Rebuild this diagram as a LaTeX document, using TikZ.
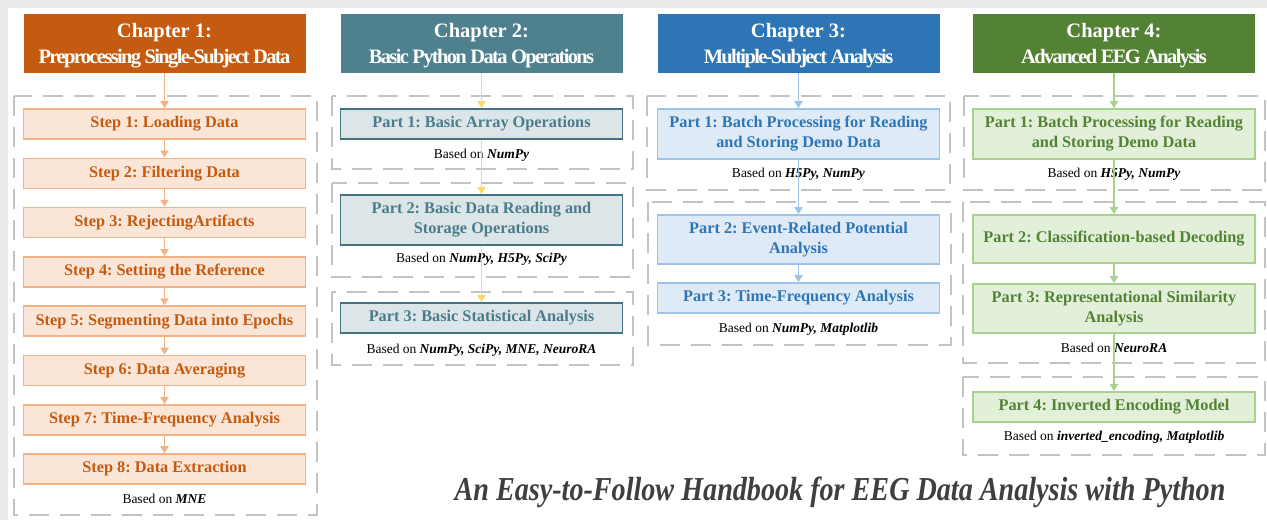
\documentclass[tikz,border=0pt]{standalone}
\usepackage{fontspec}
\setmainfont{Liberation Serif}
\newfontfamily\condfont[FakeStretch=0.84]{Liberation Serif}
\newfontfamily\tightfont[LetterSpace=-8]{Liberation Serif}
\usetikzlibrary{arrows.meta}
\definecolor{oDark}{HTML}{C55A11}
\definecolor{oFill}{HTML}{FBE5D6}
\definecolor{oLine}{HTML}{F4B183}
\definecolor{tDark}{HTML}{4E808E}
\definecolor{tFill}{HTML}{DCE6E9}
\definecolor{tLine}{HTML}{44737F}
\definecolor{tText}{HTML}{4A7C8A}
\definecolor{yArrow}{HTML}{FFD966}
\definecolor{bDark}{HTML}{2E75B6}
\definecolor{bFill}{HTML}{DEEBF7}
\definecolor{bLine}{HTML}{9DC3E6}
\definecolor{gDark}{HTML}{548235}
\definecolor{gFill}{HTML}{E2F0D9}
\definecolor{gLine}{HTML}{A9D18E}
\definecolor{dashGray}{HTML}{C3C3C3}
\definecolor{titleGray}{HTML}{3F3F3F}
\definecolor{shadowGray}{HTML}{EBEBEB}
\tikzset{
  header/.style={minimum width=282pt, minimum height=59pt, inner sep=0pt},
  headtext/.style={inner sep=0pt, align=center, text=white,
    font=\bfseries\fontsize{20.5}{26}\selectfont},
  box/.style={minimum width=282pt, inner sep=0pt, align=center, line width=1.6pt,
    font=\frenchspacing\bfseries\fontsize{16.3}{20}\selectfont},
  stepbox/.style={box, draw=oLine, fill=oFill, text=oDark},
  tbox/.style={box, draw=tLine, fill=tFill, text=tText},
  bbox/.style={box, draw=bLine, fill=bFill, text=bDark},
  gbox/.style={box, draw=gLine, fill=gFill, text=gDark},
  basedon/.style={inner sep=0pt, font=\fontsize{13.5}{16}\selectfont},
  dashbox/.style={draw=dashGray, line width=2.6pt, dash pattern=on 20pt off 11pt},
  arr/.style={line width=1.8pt, -{Triangle[length=7pt,width=8pt]}},
}
\newcommand{\lib}[1]{\textbf{\textit{#1}}}
\begin{document}
\begin{tikzpicture}[x=1pt,y=-1pt]
\useasboundingbox (0,0) rectangle (1267,520);
\fill[shadowGray] (0,0) rectangle (1267,520);
\fill[white] (8,8) rectangle (1267,520);

% dashed groups
\draw[dashbox] (14,96) rectangle (317,515);
\draw[dashbox] (332,96) rectangle (633,169);
\draw[dashbox] (332,183) rectangle (633,277);
\draw[dashbox] (332,292) rectangle (633,365);
\draw[dashbox] (647,96) rectangle (950,190);
\draw[dashbox] (648,202) rectangle (951,345);
\draw[dashbox] (964,96) rectangle (1265,190);
\draw[dashbox] (963,202) rectangle (1265,363);
\draw[dashbox] (963,377) rectangle (1265,455);

% headers
\node[header, fill=oDark] (h1) at (164.5,43.5) {};
\node[header, fill=tDark] (h2) at (481.5,43.5) {};
\node[header, fill=bDark] (h3) at (798.5,43.5) {};
\node[header, fill=gDark] (h4) at (1114,43.5) {};
\node[headtext] (h1t) at ([yshift=-2.5pt]h1.center) {Chapter 1:\\{\tightfont Preprocessing Single-Subject Data}};
\node[headtext] (h2t) at ([yshift=-2.5pt]h2.center) {Chapter 2:\\{\tightfont Basic Python Data Operations}};
\node[headtext] (h3t) at ([yshift=-2.5pt]h3.center) {Chapter 3:\\{\tightfont Multiple-Subject Analysis}};
\node[headtext] (h4t) at ([yshift=-2.5pt]h4.center) {Chapter 4:\\{\tightfont Advanced EEG Analysis}};

% chapter 1
\node[stepbox, minimum height=30pt] (s1) at (164.5,124) {Step 1: Loading Data};
\node[stepbox, minimum height=30pt] (s2) at (164.5,173.3) {Step 2: Filtering Data};
\node[stepbox, minimum height=30pt] (s3) at (164.5,222.6) {Step 3: RejectingArtifacts};
\node[stepbox, minimum height=30pt] (s4) at (164.5,271.9) {Step 4: Setting the Reference};
\node[stepbox, minimum height=30pt] (s5) at (164.5,321.2) {Step 5: Segmenting Data into Epochs};
\node[stepbox, minimum height=30pt] (s6) at (164.5,370.5) {Step 6: Data Averaging};
\node[stepbox, minimum height=30pt] (s7) at (164.5,419.8) {Step 7: Time-Frequency Analysis};
\node[stepbox, minimum height=30pt] (s8) at (164.5,469) {Step 8: Data Extraction};
\node[basedon] (b1) at (164.5,499) {Based on \lib{MNE}};

% chapter 2
\node[tbox, minimum height=30pt] (p21) at (481.5,124) {Part 1: Basic Array Operations};
\node[basedon] (b21) at (481.5,155) {Based on \lib{NumPy}};
\node[tbox, minimum height=50pt] (p22) at (481.5,220) {Part 2: Basic Data Reading and\\Storage Operations};
\node[basedon] (b22) at (481.5,259) {Based on \lib{NumPy, H5Py, SciPy}};
\node[tbox, minimum height=30pt] (p23) at (481.5,318) {Part 3: Basic Statistical Analysis};
\node[basedon] (b23) at (481.5,350) {Based on \lib{NumPy, SciPy, MNE, NeuroRA}};

% chapter 3
\node[bbox, minimum height=50pt] (p31) at (798.5,134) {Part 1: Batch Processing for Reading\\and Storing Demo Data};
\node[basedon] (b31) at (798.5,174) {Based on \lib{H5Py, NumPy}};
\node[bbox, minimum height=49pt] (p32) at (798.5,239.5) {Part 2: Event-Related Potential\\Analysis};
\node[bbox, minimum height=30pt] (p33) at (798.5,298) {Part 3: Time-Frequency Analysis};
\node[basedon] (b33) at (798.5,329) {Based on \lib{NumPy, Matplotlib}};

% chapter 4
\node[gbox, minimum height=50pt] (p41) at (1114,134) {Part 1: Batch Processing for Reading\\and Storing Demo Data};
\node[basedon] (b41) at (1114,174) {Based on \lib{H5Py, NumPy}};
\node[gbox, minimum height=48pt] (p42) at (1114,239) {Part 2: Classification-based Decoding};
\node[gbox, minimum height=49pt] (p43) at (1114,308.5) {Part 3: Representational Similarity\\Analysis};
\node[basedon] (b43) at (1114,348) {Based on \lib{NeuroRA}};
\node[gbox, minimum height=30pt] (p44) at (1114,407) {Part 4: Inverted Encoding Model};
\node[basedon] (b44) at (1114,437) {Based on \lib{inverted\_encoding, Matplotlib}};

% arrows
\draw[arr, oLine] (h1) -- (s1);
\draw[arr, oLine] (s1) -- (s2);
\draw[arr, oLine] (s2) -- (s3);
\draw[arr, oLine] (s3) -- (s4);
\draw[arr, oLine] (s4) -- (s5);
\draw[arr, oLine] (s5) -- (s6);
\draw[arr, oLine] (s6) -- (s7);
\draw[arr, oLine] (s7) -- (s8);

\draw[arr, yArrow] (h2) -- (p21);
\draw[arr, yArrow] (p21) -- (p22);
\draw[arr, yArrow] (p22) -- (p23);

\draw[arr, bLine] (h3) -- (p31);
\draw[arr, bLine] (p31) -- (p32);
\draw[arr, bLine] (p32) -- (p33);

\draw[arr, gLine] (h4) -- (p41);
\draw[arr, gLine] (p41) -- (p42);
\draw[arr, gLine] (p42) -- (p43);
\draw[arr, gLine] (p43) -- (p44);

% title
\node[inner sep=0pt, text=titleGray, font=\condfont\bfseries\itshape\fontsize{33.5}{36}\selectfont] (title) at (840,492) {An Easy-to-Follow Handbook for EEG Data Analysis with Python};
\end{tikzpicture}
\end{document}
